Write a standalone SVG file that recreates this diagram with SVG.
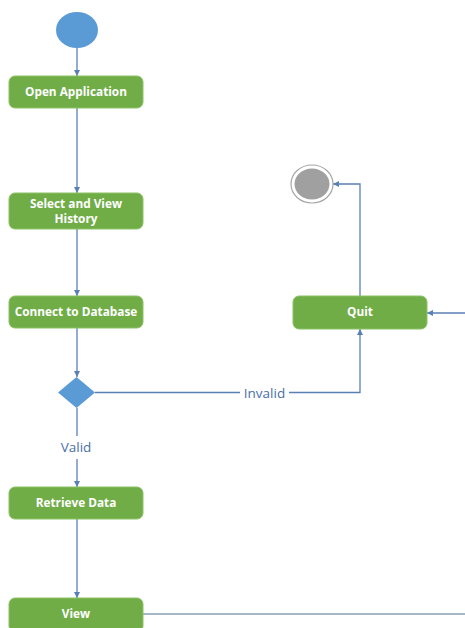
<svg xmlns="http://www.w3.org/2000/svg" width="465" height="628" viewBox="0 0 465 628">
<defs>
<marker id="arr" viewBox="0 0 10 10" refX="10" refY="5" markerWidth="6" markerHeight="6" orient="auto" markerUnits="userSpaceOnUse">
<path d="M0,0 L10,5 L0,10 z" fill="#5a7fb5"/>
</marker>
<style>
.box{fill:#70ad47;stroke:#8cc165;stroke-width:1}
.lbl{font-family:"Open Sans","Liberation Sans",sans-serif;font-weight:bold;font-size:11.8px;fill:#ffffff;text-anchor:middle}
.con{fill:none;stroke:#5a7fb5;stroke-width:1.3}
.edge{font-family:"Open Sans","Liberation Sans",sans-serif;font-size:13.5px;fill:#4a70a8;text-anchor:middle}
</style>
</defs>
<rect width="465" height="628" fill="#ffffff"/>
<g id="connectors">
<line class="con" x1="77" y1="48" x2="77" y2="76" marker-end="url(#arr)"/>
<line class="con" x1="77" y1="108" x2="77" y2="193" marker-end="url(#arr)"/>
<line class="con" x1="77" y1="229" x2="77" y2="296" marker-end="url(#arr)"/>
<line class="con" x1="77" y1="328" x2="77" y2="377" marker-end="url(#arr)"/>
<line class="con" x1="77" y1="408" x2="77" y2="436"/>
<line class="con" x1="77" y1="459" x2="77" y2="487" marker-end="url(#arr)"/>
<text class="edge" x="76" y="452">Valid</text>
<polyline class="con" points="95,392.5 240,392.5"/>
<polyline class="con" points="289,392.5 360,392.5 360,329" marker-end="url(#arr)"/>
<text class="edge" x="264.5" y="397.5">Invalid</text>
<line class="con" x1="77" y1="519" x2="77" y2="598" marker-end="url(#arr)"/>
<polyline class="con" points="360,296 360,184 333,184" marker-end="url(#arr)"/>
<line class="con" x1="465" y1="313" x2="427" y2="313" marker-end="url(#arr)"/>
<line x1="143" y1="614" x2="465" y2="614" stroke="#8a9fb5" stroke-width="1.5"/>
</g>
<g id="start">
<ellipse cx="77" cy="30" rx="21" ry="18" fill="#5b9bd5"/>
</g>
<g id="open-application">
<rect class="box" x="9" y="76" width="134" height="32" rx="6"/>
<text class="lbl" x="76" y="96">Open Application</text>
</g>
<g id="select-view-history">
<rect class="box" x="9" y="193" width="134" height="36" rx="6"/>
<text class="lbl" x="76" y="208">Select and View</text>
<text class="lbl" x="76" y="223">History</text>
</g>
<g id="connect-database">
<rect class="box" x="9" y="296" width="134" height="32" rx="6"/>
<text class="lbl" x="76" y="316">Connect to Database</text>
</g>
<g id="decision">
<polygon points="76.5,377 95,392.5 76.5,408 58,392.5" fill="#5b9bd5"/>
</g>
<g id="retrieve-data">
<rect class="box" x="9" y="487" width="134" height="32" rx="6"/>
<text class="lbl" x="76" y="507">Retrieve Data</text>
</g>
<g id="view">
<rect class="box" x="9" y="598" width="134" height="34" rx="6"/>
<text class="lbl" x="76" y="618">View</text>
</g>
<g id="quit">
<rect class="box" x="293" y="296" width="134" height="33" rx="6"/>
<text class="lbl" x="360" y="316">Quit</text>
</g>
<g id="end">
<ellipse cx="312" cy="184" rx="21" ry="19" fill="#ffffff" stroke="#a6a6a6" stroke-width="1.2"/>
<ellipse cx="312" cy="184" rx="17.5" ry="15.5" fill="#a0a0a0"/>
</g>
</svg>
